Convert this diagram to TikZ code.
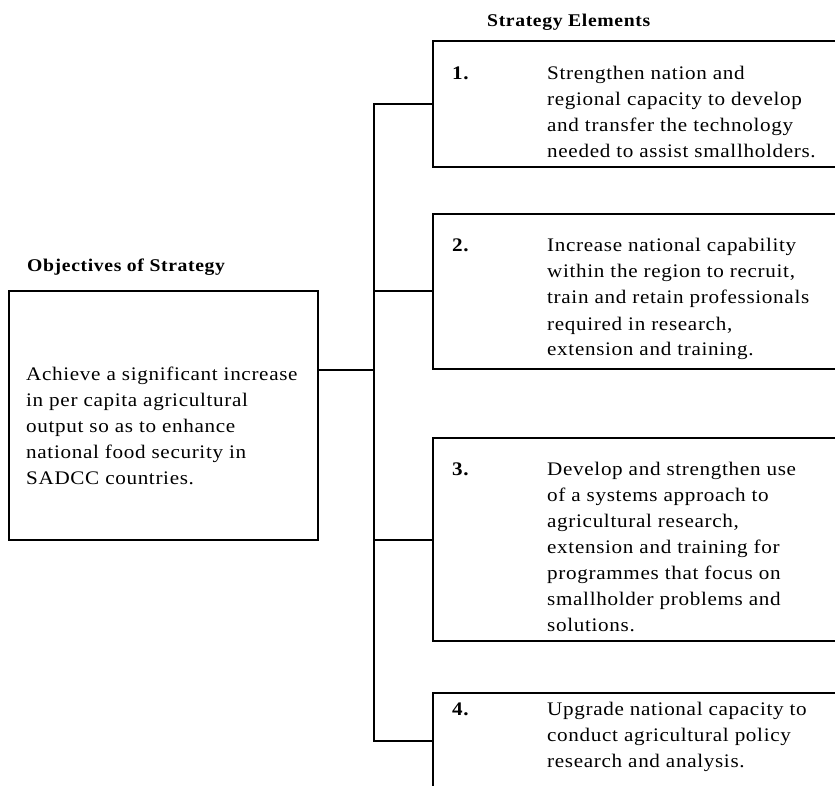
\documentclass[tikz,border=0pt]{standalone}
\usepackage{fontspec}
\setmainfont{Liberation Serif}[FakeStretch=1.1,LetterSpace=3.5]
\newcommand{\lines}[1]{\begin{tabular}[t]{@{}l@{}}#1\end{tabular}}
\begin{document}
\begin{tikzpicture}[x=1pt,y=-1pt,
  box/.style={draw,line width=2pt,rectangle,inner sep=0pt,anchor=north west},
  txt/.style={inner sep=0pt,anchor=base west,font=\fontsize{19.2}{26}\selectfont},
  hd/.style={inner sep=0pt,anchor=base west,font=\fontsize{17.9}{26}\selectfont\bfseries},
  link/.style={line width=2pt}]
\useasboundingbox (0,0) rectangle (835,786);
\clip (0,0) rectangle (835,786);
\fill[white] (0,0) rectangle (835,786);

% headings
\node[hd] (hobj) at (27,272) {Objectives of Strategy};
\node[hd] (hstr) at (487,27) {Strategy Elements};

% boxes
\node[box,minimum width=309pt,minimum height=249pt] (obj) at (8,290) {};
\node[box,minimum width=420pt,minimum height=126pt] (b1) at (432,40) {};
\node[box,minimum width=420pt,minimum height=155pt] (b2) at (432,213) {};
\node[box,minimum width=420pt,minimum height=203pt] (b3) at (432,437) {};
\node[box,minimum width=420pt,minimum height=96pt] (b4) at (432,692) {};

% texts
\node[txt] (tobj) at (26,380) {\lines{Achieve a significant increase\\in per capita agricultural\\output so as to enhance\\national food security in\\SADCC countries.}};

\node[txt] (n1) at (452,80) {\textbf{1.}};
\node[txt] (t1) at (547,80) {\lines{Strengthen nation and\\regional capacity to develop\\and transfer the technology\\needed to assist smallholders.}};

\node[txt] (n2) at (452,252) {\textbf{2.}};
\node[txt] (t2) at (547,252) {\lines{Increase national capability\\within the region to recruit,\\train and retain professionals\\required in research,\\extension and training.}};

\node[txt] (n3) at (452,475) {\textbf{3.}};
\node[txt] (t3) at (547,475) {\lines{Develop and strengthen use\\of a systems approach to\\agricultural research,\\extension and training for\\programmes that focus on\\smallholder problems and\\solutions.}};

\node[txt] (n4) at (452,715) {\textbf{4.}};
\node[txt] (t4) at (547,715) {\lines{Upgrade national capacity to\\conduct agricultural policy\\research and analysis.}};

% connectors
\coordinate (bus) at (374,0);
\draw[link] ([yshift=46pt]obj.east) -- ([yshift=46pt]obj.east -| bus);
\draw[link] (b1.west) -| (bus |- b4.west) -- (b4.west);
\draw[link] (b2.west) -- (b2.west -| bus);
\draw[link] (b3.west) -- (b3.west -| bus);
\end{tikzpicture}
\end{document}
